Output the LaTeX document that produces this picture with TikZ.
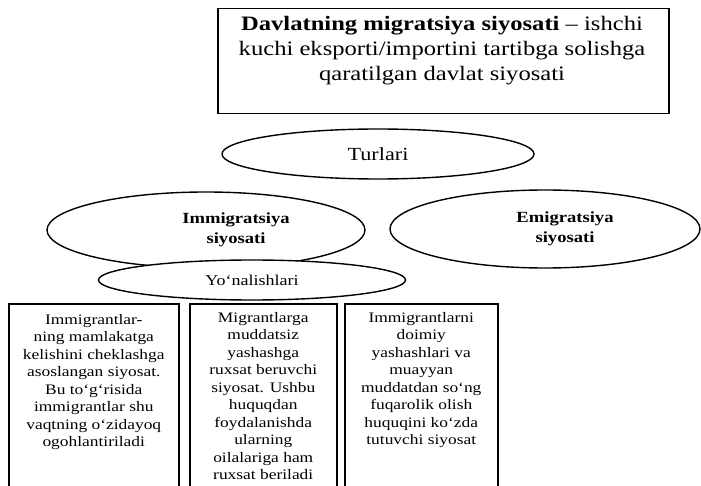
\documentclass[tikz,border=0pt]{standalone}
\usepackage{fontspec}
\setmainfont{Liberation Serif}[FakeStretch=1.2]
\usetikzlibrary{shapes.geometric}

\tikzset{
  ramka/.style={draw, line width=1.5pt, anchor=north west, inner sep=0pt},
  turi/.style={draw, ellipse, line width=1.4pt, inner sep=0pt, fill=white},
  matn/.style={align=center, inner sep=0pt, font=\fontsize{14.5}{17.5}\selectfont},
  qalin/.style={align=center, inner sep=0pt, font=\fontsize{15.5}{20}\selectfont\bfseries},
}

\begin{document}
\begin{tikzpicture}[x=1pt, y=-1pt]
    \useasboundingbox (0,0) rectangle (701,486);

    % Ta'rif
    \node[ramka, minimum width=451pt, minimum height=105pt] (tarif) at (217,8) {};
    \node[matn, font=\fontsize{20.5}{25}\selectfont] (tarifmatn) at (442,51)
        {\textbf{Davlatning migratsiya siyosati} – ishchi\\
         kuchi eksporti/importini tartibga solishga\\
         qaratilgan davlat siyosati};

    % Turlari
    \node[turi, minimum width=312pt, minimum height=50pt,
          font=\fontsize{18.5}{22}\selectfont] (turlari) at (378,154) {Turlari};

    % Siyosat turlari
    \node[turi, minimum width=318pt, minimum height=76pt,
          label={[qalin, xshift=30pt, name=immigmatn]center:{Immigratsiya\\siyosati}}] (immig) at (206,230) {};
    \node[turi, minimum width=310pt, minimum height=78pt,
          label={[qalin, xshift=20pt, name=emigmatn]center:{Emigratsiya\\siyosati}}] (emig) at (545,229) {};

    % Yo'nalishlari
    \node[turi, minimum width=307pt, minimum height=40pt,
          font=\fontsize{15}{18}\selectfont] (yonalish) at (252,280) {Yo‘nalishlari};

    % Qutilar
    \node[ramka, minimum width=170pt, minimum height=190pt] (quti1) at (8,303) {};
    \node[ramka, minimum width=147pt, minimum height=190pt] (quti2) at (189,303) {};
    \node[ramka, minimum width=153pt, minimum height=190pt] (quti3) at (344,303) {};

    \node[matn, anchor=north] (matn1) at ([yshift=-11pt]quti1.north)
        {Immigrantlar-\\ning mamlakatga\\kelishini cheklashga\\asoslangan siyosat.\\
         Bu to‘g‘risida\\immigrantlar shu\\vaqtning o‘zidayoq\\ogohlantiriladi};
    \node[matn, anchor=north] (matn2) at ([yshift=-9pt]quti2.north)
        {Migrantlarga\\muddatsiz\\yashashga\\ruxsat beruvchi\\siyosat. Ushbu\\
         huquqdan\\foydalanishda\\ularning\\oilalariga ham\\ruxsat beriladi};
    \node[matn, anchor=north] (matn3) at ([yshift=-9pt]quti3.north)
        {Immigrantlarni\\doimiy\\yashashlari va\\muayyan\\muddatdan so‘ng\\
         fuqarolik olish\\huquqini ko‘zda\\tutuvchi siyosat};
\end{tikzpicture}
\end{document}
